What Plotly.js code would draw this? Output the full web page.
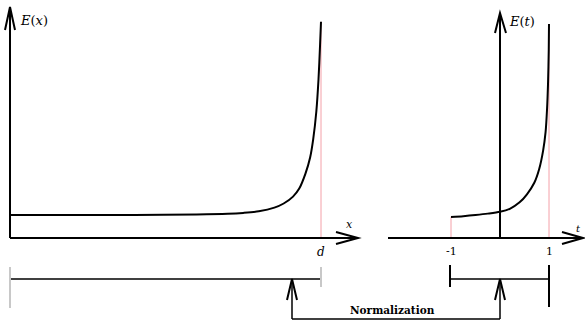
<!DOCTYPE html>
<html>
<head>
<meta charset="utf-8">
<script src="https://cdn.plot.ly/plotly-3.0.1.min.js"></script>
<style>html,body{margin:0;padding:0;background:#fff;}#chart{width:585px;height:320px;}</style>
</head>
<body>
<div id="chart"></div>
<script>
// Left panel: field E(x) over 0..d (d = 1)
const xLeft = [0, 0.2, 0.4, 0.6, 0.7, 0.75, 0.8, 0.85, 0.88, 0.91, 0.93, 0.95, 0.965, 0.975, 0.985, 0.992, 0.997, 1.0];
const eLeft = [1.0, 1.0, 1.0, 1.02, 1.05, 1.09, 1.16, 1.32, 1.5, 1.8, 2.15, 2.8, 3.5, 4.3, 5.5, 6.9, 8.4, 9.4];
// Right panel: normalized field E(t) over -1..1
const tRight = [-1, -0.75, -0.5, -0.25, 0, 0.2, 0.4, 0.55, 0.7, 0.8, 0.88, 0.93, 0.96, 0.98, 0.995, 1.0];
const eRight = [0.91, 0.95, 1.0, 1.06, 1.14, 1.27, 1.55, 1.9, 2.4, 3.0, 3.8, 4.6, 5.6, 6.7, 8.2, 9.3];
const leftTickVals = [1];
const leftTickText = ['d'];
const rightTickVals = [-1, 1];
const rightTickText = ['-1', '1'];

const W = 585, H = 320;
const px = v => v / W;
const py = v => 1 - v / H;
const serif = 'DejaVu Serif';

function line(x0, y0, x1, y1, color, width) {
  return {type: 'line', xref: 'paper', yref: 'paper', x0: px(x0), y0: py(y0), x1: px(x1), y1: py(y1),
          line: {color: color, width: width}};
}
function vArrow(tx, ty, lx, ly, rx, ry) {
  return {type: 'path', xref: 'paper', yref: 'paper',
          path: 'M' + px(lx) + ',' + py(ly) + ' L' + px(tx) + ',' + py(ty) + ' L' + px(rx) + ',' + py(ry),
          line: {color: '#000', width: 2}};
}

const shapes = [
  // left axes
  line(10, 238, 10, 8, '#000', 2),
  line(10, 238, 357, 238, '#000', 2),
  vArrow(10, 7, 5, 30, 15, 30),
  vArrow(358, 238, 336, 232, 336, 244),
  // right axes
  line(388, 238, 582, 238, '#000', 2),
  line(500, 238, 500, 14, '#000', 2),
  vArrow(500, 13, 495, 33, 506, 33),
  vArrow(583, 238, 562, 232, 562, 244),
  // pink guide lines (data coordinates)
  {type: 'line', xref: 'x', yref: 'y', x0: xLeft[xLeft.length - 1], x1: xLeft[xLeft.length - 1], y0: 0, y1: eLeft[eLeft.length - 1],
   line: {color: '#f4a0a8', width: 1}, layer: 'below'},
  {type: 'line', xref: 'x2', yref: 'y', x0: tRight[0], x1: tRight[0], y0: 0, y1: eRight[0],
   line: {color: '#f4a0a8', width: 1}, layer: 'below'},
  {type: 'line', xref: 'x2', yref: 'y', x0: tRight[tRight.length - 1], x1: tRight[tRight.length - 1], y0: 0, y1: eRight[eRight.length - 1],
   line: {color: '#f4a0a8', width: 1}, layer: 'below'},
  // bottom interval bars
  line(10, 279, 321, 279, '#000', 1.5),
  line(10, 267, 10, 308, '#c8c8c8', 2),
  line(321, 267, 321, 287, '#c8c8c8', 2),
  line(450, 279, 549, 279, '#000', 1.5),
  line(450, 265, 450, 287, '#000', 2),
  line(549, 265, 549, 307, '#000', 2),
  // normalization connector
  line(292, 280, 292, 319, '#000', 1.5),
  line(292, 319, 500, 319, '#000', 1.5),
  line(500, 280, 500, 319, '#000', 1.5),
  vArrow(292, 279, 287, 300, 297, 300),
  vArrow(500, 279, 495, 300, 505, 300)
];

function ann(text, x, y, size, xanchor) {
  return {text: text, xref: 'paper', yref: 'paper', x: px(x), y: py(y), showarrow: false,
    xanchor: xanchor || 'center', yanchor: 'middle', font: {family: serif, size: size, color: '#000'}};
}

const annotations = [
  ann('<i>E</i>(<i>x</i>)', 18, 20, 13, 'left'),
  ann('<i>E</i>(<i>t</i>)', 507, 22, 13, 'left'),
  ann('<i>x</i>', 349, 224, 11),
  ann('<i>t</i>', 578, 228, 10),
  ann('<b>Normalization</b>', 393, 310, 10.5)
];
leftTickVals.forEach((v, i) => annotations.push({text: '<i>' + leftTickText[i] + '</i>', xref: 'x', yref: 'paper', x: v, y: py(252),
  showarrow: false, xanchor: 'center', yanchor: 'middle', font: {family: serif, size: 12, color: '#000'}}));
rightTickVals.forEach((v, i) => annotations.push({text: rightTickText[i], xref: 'x2', yref: 'paper', x: v, y: py(251),
  showarrow: false, xanchor: 'center', yanchor: 'middle', font: {family: serif, size: 11, color: '#000'}}));

const traces = [
  {x: xLeft, y: eLeft, xaxis: 'x', yaxis: 'y', mode: 'lines', line: {color: '#000', width: 2, shape: 'spline', smoothing: 0.8},
   hoverinfo: 'skip', showlegend: false, cliponaxis: false},
  {x: tRight, y: eRight, xaxis: 'x2', yaxis: 'y', mode: 'lines', line: {color: '#000', width: 2, shape: 'spline', smoothing: 0.8},
   hoverinfo: 'skip', showlegend: false, cliponaxis: false}
];

const layout = {
  width: W, height: H,
  margin: {l: 0, r: 0, t: 0, b: 0, pad: 0},
  paper_bgcolor: '#fff', plot_bgcolor: '#fff',
  font: {family: serif},
  showlegend: false,
  xaxis: {domain: [0, 1], range: [-10 / 311, 575 / 311], visible: false, fixedrange: true},
  xaxis2: {domain: [0, 1], range: [-500 / 49, 85 / 49], visible: false, overlaying: 'x', anchor: 'y', fixedrange: true},
  yaxis: {domain: [0, 1], range: [(238 - 320) / 23, 238 / 23], visible: false, fixedrange: true},
  shapes: shapes,
  annotations: annotations
};

Plotly.newPlot('chart', traces, layout, {staticPlot: true, displayModeBar: false});
</script>
</body>
</html>
